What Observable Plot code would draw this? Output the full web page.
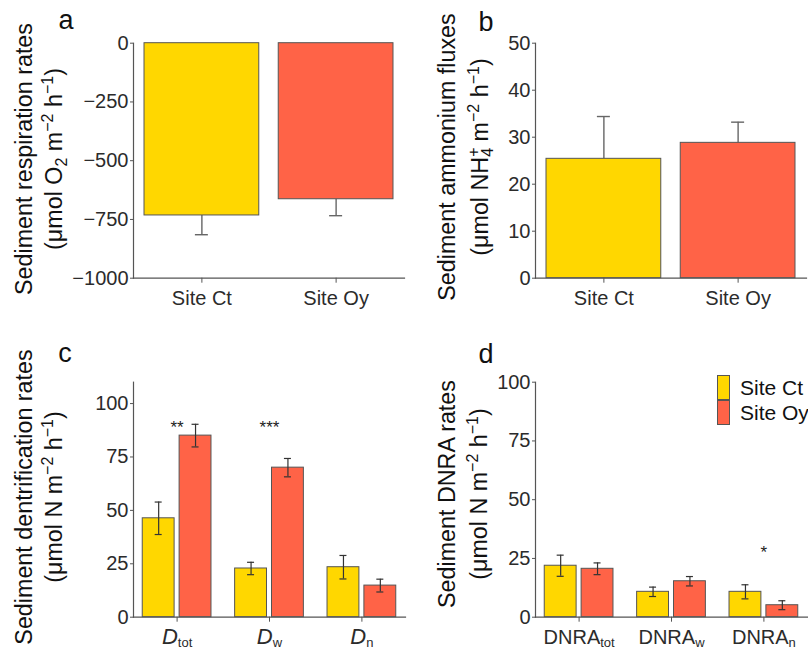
<!DOCTYPE html>
<html>
<head>
<meta charset="utf-8">
<script src="https://cdn.jsdelivr.net/npm/d3@7"></script>
<script src="https://cdn.jsdelivr.net/npm/@observablehq/plot@0.6"></script>
<style>
  body { margin: 0; background: #fff; }
  #fig { position: relative; width: 808px; height: 650px; overflow: hidden; background: #fff;
         font-family: "Liberation Sans", Arial, Helvetica, sans-serif; }
  #fig svg { position: absolute; overflow: visible; }
</style>
</head>
<body>
<div id="fig"></div>
<script>
// ---------------- data ----------------
const sites = ["Site Ct", "Site Oy"];
const siteColors = ["#FFD700", "#FF6347"];

// panel a: respiration
const respMean = [-733, -664];
const respErr = [82, 70];
const respTicks = [0, -250, -500, -750, -1000];

// panel b: ammonium fluxes
const ammMean = [25.4, 28.8];
const ammErr = [9.0, 4.4];
const ammTicks = [0, 10, 20, 30, 40, 50];

// panel c: denitrification
const denGroups = ["tot", "w", "n"];
const denCt = [46.3, 22.8, 23.4];
const denCtErr = [7.6, 2.9, 5.5];
const denOy = [85.0, 70.0, 14.8];
const denOyErr = [5.3, 4.3, 3.0];
const denSig = ["**", "***", ""];
const denSigY = [89, 89, 0];

// panel d: DNRA
const dnraGroups = ["tot", "w", "n"];
const dnraCt = [21.9, 10.8, 10.8];
const dnraCtErr = [4.5, 2.0, 3.0];
const dnraOy = [20.6, 15.3, 5.1];
const dnraOyErr = [2.5, 2.0, 1.9];
const dnraSig = ["", "", "*"];
const dnraSigY = [0, 0, 27.4];

const nTicks = [0, 25, 50, 75, 100];

// ---------------- helpers ----------------
const FONT = '"Liberation Sans", Arial, Helvetica, sans-serif';
const fig = document.getElementById("fig");

function place(svg, left, top) {
  svg.style.left = left + "px";
  svg.style.top = top + "px";
  fig.appendChild(svg);
  return svg;
}

function richText(textSel, spec, baseSize, smallSize) {
  const re = /\^\{([^}]*)\}|_\{([^}]*)\}|([^^_]+)/g;
  let m, shift = 0, lastSup = null, lastType = null;
  while ((m = re.exec(spec)) !== null) {
    let target, str, size, type;
    if (m[1] !== undefined) { type = "sup"; target = -baseSize * 0.38; str = m[1]; size = smallSize; }
    else if (m[2] !== undefined) { type = "sub"; target = baseSize * 0.22; str = m[2]; size = smallSize; }
    else { type = "norm"; target = 0; str = m[3]; size = baseSize; }
    const ts = textSel.append("tspan").attr("font-size", size).attr("dy", target - shift).text(str);
    if (type === "sub" && lastType === "sup" && lastSup) {
      ts.attr("dx", -lastSup.node().getComputedTextLength());
    }
    if (type === "sup") lastSup = ts;
    lastType = type;
    shift = target;
  }
}

function addYTitle(svg, lines, xs, cy) {
  lines.forEach((spec, i) => {
    const t = d3.select(svg).append("text")
      .attr("transform", `translate(${xs[i]},${cy}) rotate(-90)`)
      .attr("text-anchor", "middle")
      .attr("fill", "#111")
      .attr("font-family", FONT);
    richText(t, spec, 23.3, 16);
  });
}

function addLetter(svg, letter, x, y) {
  d3.select(svg).append("text").attr("x", x).attr("y", y)
    .attr("font-size", 27).attr("fill", "#111").attr("font-family", FONT).text(letter);
}

function fixTickLabels(svg, italicBase) {
  d3.select(svg).selectAll("text").filter(function () { return this.textContent.includes("|"); })
    .each(function () {
      const [b, s] = this.textContent.split("|");
      const t = d3.select(this);
      t.text(null);
      t.append("tspan").attr("font-style", italicBase ? "italic" : null)
        .attr("font-size", italicBase ? 22 : 20).text(b);
      t.append("tspan").attr("font-size", 13).attr("dy", 3).text(s);
    });
}

// ---------------- simple (a, b) panels ----------------
function simplePanel({mean, err, ticks, domain, upward, marginLeft, marginRight}) {
  const width = 404, height = 325;
  const pi = 0.145, po = 0.082;
  const inner = width - marginLeft - marginRight;
  const step = inner / (sites.length - pi + 2 * po);
  const bw = step * (1 - pi);
  const capInset = (bw - 13) / 2;
  const data = sites.map((s, i) => ({site: s, v: mean[i], end: mean[i] + (upward ? err[i] : -err[i])}));
  return Plot.plot({
    width, height, marginLeft, marginRight, marginTop: 42.7, marginBottom: 47.3,
    style: {fontFamily: FONT, fontSize: "20px", color: "#333", background: "transparent"},
    x: {domain: sites, paddingInner: pi, paddingOuter: po, round: false, label: null},
    y: {domain, label: null},
    color: {domain: sites, range: siteColors},
    marks: [
      Plot.ruleX(data, {x: "site", y1: "v", y2: "end", stroke: "#666", strokeWidth: 1.4}),
      Plot.tickY(data, {x: "site", y: "end", stroke: "#666", strokeWidth: 1.4, insetLeft: capInset, insetRight: capInset}),
      Plot.barY(data, {x: "site", y: "v", fill: "site", stroke: "#555", strokeWidth: 1}),
      Plot.frame({anchor: "left", stroke: "#555", strokeWidth: 1.2}),
      Plot.frame({anchor: "bottom", stroke: "#555", strokeWidth: 1.2}),
      Plot.axisY({ticks, tickFormat: d3.format("d"), tickSize: 3, tickPadding: 2, stroke: "#555", fill: "#2b2b2b", label: null}),
      Plot.axisX({tickSize: 5, tickPadding: 8, stroke: "#555", fill: "#2b2b2b", label: null})
    ]
  });
}

// ---------------- grouped (c, d) panels ----------------
function groupPanel({groups, base, ct, ctErr, oy, oyErr, sig, sigY, domain, marginLeft, marginRight}) {
  const width = 404, height = 325;
  const pi = 0.256, po = 0.1;
  const inner = width - marginLeft - marginRight;
  const step = inner / (groups.length - pi + 2 * po);
  const bw = step * (1 - pi);
  const gap = 5;
  const barW = (bw - gap) / 2;
  const off = (bw - barW) / 2;
  const capHalf = 3.5;
  const ctData = groups.map((g, i) => ({g, site: sites[0], v: ct[i], lo: ct[i] - ctErr[i], hi: ct[i] + ctErr[i]}));
  const oyData = groups.map((g, i) => ({g, site: sites[1], v: oy[i], lo: oy[i] - oyErr[i], hi: oy[i] + oyErr[i]}));
  const sigData = groups.map((g, i) => ({g, s: sig[i], y: sigY[i]})).filter(d => d.s);
  const errStyle = {stroke: "#333", strokeWidth: 1.2};
  const capCt = {insetLeft: barW / 2 - capHalf, insetRight: bw - barW / 2 - capHalf};
  const capOy = {insetLeft: bw - barW / 2 - capHalf, insetRight: barW / 2 - capHalf};
  return Plot.plot({
    width, height, marginLeft, marginRight, marginTop: 56.7, marginBottom: 33.3,
    style: {fontFamily: FONT, fontSize: "20px", color: "#333", background: "transparent"},
    x: {domain: groups, paddingInner: pi, paddingOuter: po, round: false, label: null},
    y: {domain, label: null},
    color: {domain: sites, range: siteColors},
    marks: [
      Plot.barY(ctData, {x: "g", y: "v", fill: "site", stroke: "#555", strokeWidth: 1, insetRight: bw - barW}),
      Plot.barY(oyData, {x: "g", y: "v", fill: "site", stroke: "#555", strokeWidth: 1, insetLeft: bw - barW}),
      Plot.ruleX(ctData, {x: "g", y1: "lo", y2: "hi", dx: -off, ...errStyle}),
      Plot.ruleX(oyData, {x: "g", y1: "lo", y2: "hi", dx: off, ...errStyle}),
      Plot.tickY(ctData, {x: "g", y: "lo", ...errStyle, ...capCt}),
      Plot.tickY(ctData, {x: "g", y: "hi", ...errStyle, ...capCt}),
      Plot.tickY(oyData, {x: "g", y: "lo", ...errStyle, ...capOy}),
      Plot.tickY(oyData, {x: "g", y: "hi", ...errStyle, ...capOy}),
      Plot.text(sigData, {x: "g", y: "y", text: "s", fontSize: 17, fill: "#222"}),
      Plot.frame({anchor: "left", stroke: "#555", strokeWidth: 1.2}),
      Plot.frame({anchor: "bottom", stroke: "#555", strokeWidth: 1.2}),
      Plot.axisY({ticks: nTicks, tickFormat: d3.format("d"), tickSize: 3, tickPadding: 2, stroke: "#555", fill: "#2b2b2b", label: null}),
      Plot.axisX({tickSize: 5, tickPadding: 8, stroke: "#555", fill: "#2b2b2b", label: null, tickFormat: g => base + "|" + g})
    ]
  });
}

// ---------------- build ----------------
const svgA = place(simplePanel({mean: respMean, err: respErr, ticks: respTicks, domain: [-1000, 0], upward: false, marginLeft: 133, marginRight: 0}), 0, 0);
addYTitle(svgA, ["Sediment respiration rates", "(μmol O_{2} m^{−2} h^{−1})"], [31.5, 62], 159);
addLetter(svgA, "a", 66, 29);

const svgB = place(simplePanel({mean: ammMean, err: ammErr, ticks: ammTicks, domain: [0, 50], upward: true, marginLeft: 131, marginRight: 2}), 404, 0);
addYTitle(svgB, ["Sediment ammonium fluxes", "(μmol NH^{+}_{4} m^{−2} h^{−1})"], [51, 84], 157);
addLetter(svgB, "b", 82, 31);

const svgC = place(groupPanel({groups: denGroups, base: "D", ct: denCt, ctErr: denCtErr, oy: denOy, oyErr: denOyErr, sig: denSig, sigY: denSigY, domain: [0, 110], marginLeft: 133, marginRight: -1}), 0, 325);
fixTickLabels(svgC, true);
addYTitle(svgC, ["Sediment dentrification rates", "(μmol N m^{−2} h^{−1})"], [32, 62], 172);
addLetter(svgC, "c", 65, 37);

const svgD = place(groupPanel({groups: dnraGroups, base: "DNRA", ct: dnraCt, ctErr: dnraCtErr, oy: dnraOy, oyErr: dnraOyErr, sig: dnraSig, sigY: dnraSigY, domain: [0, 100], marginLeft: 131, marginRight: 1}), 404, 325);
fixTickLabels(svgD, false);
addYTitle(svgD, ["Sediment DNRA rates", "(μmol N m^{−2} h^{−1})"], [51, 83], 169);
addLetter(svgD, "d", 82, 38);

// ---------------- legend ----------------
const leg = d3.select(fig).append("div")
  .style("position", "absolute").style("left", "717px").style("top", "375px")
  .style("white-space", "nowrap");
sites.forEach((s, i) => {
  const row = leg.append("div").style("display", "flex").style("align-items", "center").style("height", "25px");
  row.append("span").style("display", "inline-block").style("flex", "none").style("width", "13px").style("height", "25px")
    .style("box-sizing", "border-box").style("border", "1px solid #555").style("background", siteColors[i]);
  row.append("span").style("margin-left", "10px").style("font-size", "21px").style("color", "#111")
    .style("white-space", "nowrap").style("line-height", "25px").text(s);
});
</script>
</body>
</html>
